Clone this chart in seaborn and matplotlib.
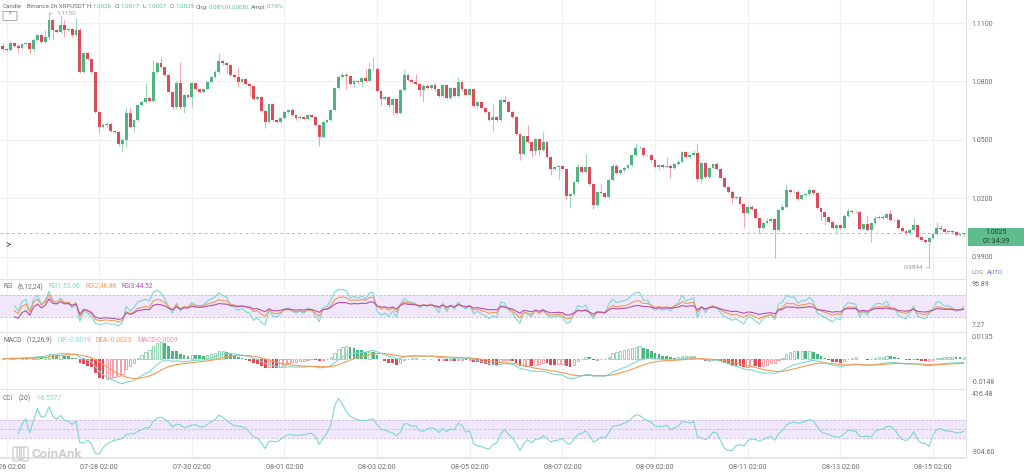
import matplotlib
matplotlib.use("Agg")
import matplotlib.pyplot as plt
import matplotlib.patches as mpatches
import numpy as np
import pandas as pd
import seaborn as sns

# 2h candles (open = previous close)
first_open = 1.0980
closes = [
    1.0965, 1.0962, 1.0999, 1.0982, 1.0970, 1.0991, 1.0999, 1.0965, 1.1013, 1.1038,
    1.1004, 1.1026, 1.1115, 1.1064, 1.1056, 1.1090, 1.1064, 1.1068, 1.1038, 1.1064,
    1.0850, 1.0944, 1.0914, 1.0850, 1.0645, 1.0568, 1.0577, 1.0582, 1.0548, 1.0543,
    1.0479, 1.0500, 1.0637, 1.0568, 1.0603, 1.0679, 1.0697, 1.0714, 1.0702, 1.0850,
    1.0893, 1.0876, 1.0833, 1.0748, 1.0667, 1.0794, 1.0671, 1.0731, 1.0719, 1.0791,
    1.0760, 1.0748, 1.0760, 1.0799, 1.0825, 1.0850, 1.0907, 1.0893, 1.0885, 1.0833,
    1.0821, 1.0799, 1.0811, 1.0787, 1.0777, 1.0709, 1.0722, 1.0649, 1.0594, 1.0685,
    1.0603, 1.0594, 1.0611, 1.0645, 1.0654, 1.0628, 1.0611, 1.0620, 1.0606, 1.0628,
    1.0620, 1.0577, 1.0517, 1.0594, 1.0603, 1.0654, 1.0765, 1.0825, 1.0834, 1.0827,
    1.0788, 1.0805, 1.0797, 1.0817, 1.0805, 1.0862, 1.0865, 1.0750, 1.0708, 1.0720,
    1.0677, 1.0711, 1.0639, 1.0754, 1.0834, 1.0808, 1.0797, 1.0788, 1.0754, 1.0779,
    1.0766, 1.0783, 1.0759, 1.0725, 1.0783, 1.0715, 1.0766, 1.0728, 1.0797, 1.0759,
    1.0732, 1.0759, 1.0674, 1.0694, 1.0663, 1.0643, 1.0603, 1.0617, 1.0600, 1.0703,
    1.0697, 1.0646, 1.0617, 1.0532, 1.0429, 1.0520, 1.0489, 1.0446, 1.0506, 1.0451,
    1.0492, 1.0412, 1.0349, 1.0361, 1.0366, 1.0352, 1.0215, 1.0224, 1.0284, 1.0361,
    1.0338, 1.0361, 1.0275, 1.0164, 1.0232, 1.0227, 1.0207, 1.0297, 1.0369, 1.0332,
    1.0344, 1.0356, 1.0373, 1.0421, 1.0458, 1.0461, 1.0421, 1.0424, 1.0395, 1.0361,
    1.0373, 1.0361, 1.0369, 1.0355, 1.0375, 1.0389, 1.0437, 1.0415, 1.0423, 1.0432,
    1.0300, 1.0380, 1.0312, 1.0355, 1.0375, 1.0351, 1.0307, 1.0261, 1.0232, 1.0201,
    1.0209, 1.0170, 1.0124, 1.0158, 1.0146, 1.0102, 1.0050, 1.0073, 1.0085, 1.0095,
    1.0038, 1.0141, 1.0158, 1.0244, 1.0232, 1.0235, 1.0197, 1.0218, 1.0221, 1.0244,
    1.0226, 1.0150, 1.0129, 1.0107, 1.0081, 1.0050, 1.0064, 1.0047, 1.0112, 1.0136,
    1.0132, 1.0129, 1.0044, 1.0068, 1.0038, 1.0073, 1.0102, 1.0107, 1.0102, 1.0119,
    1.0090, 1.0088, 1.0050, 1.0033, 1.0021, 1.0038, 1.0064, 1.0004, 0.9987, 0.9979,
    0.9996, 1.0016, 1.0047, 1.0044, 1.0030, 1.0033, 1.0026, 1.0014, 1.0017, 1.0025,
]
# wick lengths above / below the body
wick_up = [
    .0015, .0006, .0005, .0006, .0008, .0004, .0005, .0004, .0005, .0007,
    .0010, .0038, .0035, .0006, .0007, .0050, .0025, .0007, .0006, .0060,
    .0009, .0006, .0009, .0004, .0004, .0005, .0008, .0008, .0006, .0004,
    .0005, .0010, .0034, .0034, .0007, .0006, .0008, .0076, .0006, .0060,
    .0007, .0034, .0004, .0007, .0005, .0008, .0108, .0006, .0006, .0006,
    .0007, .0005, .0006, .0006, .0006, .0009, .0037, .0005, .0006, .0005,
    .0006, .0055, .0006, .0005, .0005, .0004, .0006, .0006, .0005, .0006,
    .0006, .0005, .0006, .0006, .0005, .0008, .0005, .0006, .0005, .0005,
    .0006, .0004, .0005, .0005, .0006, .0006, .0006, .0006, .0014, .0014,
    .0006, .0006, .0005, .0006, .0048, .0037, .0060, .0008, .0006, .0005,
    .0006, .0006, .0005, .0006, .0030, .0006, .0005, .0042, .0005, .0006,
    .0006, .0006, .0007, .0005, .0006, .0005, .0006, .0006, .0025, .0006,
    .0005, .0006, .0005, .0006, .0006, .0005, .0005, .0068, .0006, .0006,
    .0022, .0006, .0005, .0005, .0004, .0006, .0058, .0006, .0006, .0006,
    .0048, .0005, .0005, .0006, .0006, .0006, .0005, .0006, .0006, .0017,
    .0006, .0068, .0005, .0005, .0006, .0043, .0005, .0006, .0006, .0006,
    .0006, .0006, .0006, .0006, .0027, .0006, .0005, .0006, .0006, .0005,
    .0006, .0006, .0046, .0006, .0006, .0006, .0006, .0006, .0006, .0017,
    .0046, .0006, .0006, .0006, .0006, .0014, .0006, .0005, .0005, .0005,
    .0006, .0005, .0005, .0006, .0006, .0005, .0005, .0006, .0013, .0012,
    .0006, .0006, .0012, .0029, .0006, .0006, .0006, .0006, .0006, .0017,
    .0006, .0005, .0005, .0005, .0005, .0005, .0006, .0005, .0006, .0014,
    .0006, .0005, .0005, .0006, .0047, .0006, .0006, .0006, .0006, .0006,
    .0022, .0005, .0005, .0005, .0005, .0006, .0034, .0005, .0005, .0005,
    .0006, .0006, .0031, .0017, .0006, .0006, .0005, .0005, .0006, .0001,
]
wick_dn = [
    .0003, .0006, .0005, .0006, .0026, .0005, .0006, .0017, .0012, .0005,
    .0006, .0008, .0006, .0050, .0007, .0005, .0034, .0006, .0008, .0005,
    .0008, .0006, .0006, .0005, .0005, .0034, .0008, .0010, .0007, .0008,
    .0010, .0039, .0034, .0006, .0025, .0005, .0006, .0008, .0005, .0005,
    .0005, .0006, .0008, .0006, .0007, .0006, .0010, .0034, .0006, .0048,
    .0006, .0006, .0005, .0005, .0006, .0005, .0005, .0006, .0043, .0006,
    .0005, .0026, .0006, .0006, .0046, .0005, .0006, .0005, .0034, .0006,
    .0006, .0006, .0005, .0005, .0006, .0005, .0006, .0005, .0006, .0005,
    .0006, .0006, .0050, .0006, .0005, .0005, .0006, .0005, .0006, .0065,
    .0006, .0017, .0005, .0026, .0006, .0005, .0005, .0006, .0034, .0005,
    .0006, .0051, .0006, .0005, .0005, .0006, .0005, .0006, .0026, .0060,
    .0006, .0005, .0006, .0006, .0005, .0006, .0005, .0006, .0005, .0006,
    .0006, .0005, .0006, .0005, .0006, .0006, .0005, .0059, .0006, .0005,
    .0006, .0005, .0006, .0006, .0034, .0006, .0006, .0034, .0025, .0030,
    .0006, .0006, .0031, .0005, .0060, .0006, .0017, .0065, .0006, .0005,
    .0006, .0006, .0006, .0017, .0005, .0006, .0006, .0005, .0006, .0006,
    .0005, .0006, .0005, .0006, .0005, .0006, .0006, .0005, .0006, .0006,
    .0017, .0006, .0005, .0050, .0006, .0005, .0006, .0006, .0005, .0006,
    .0014, .0022, .0006, .0006, .0005, .0006, .0006, .0006, .0006, .0026,
    .0005, .0006, .0074, .0006, .0006, .0006, .0034, .0006, .0005, .0006,
    .0145, .0006, .0005, .0006, .0006, .0005, .0006, .0006, .0005, .0006,
    .0006, .0006, .0039, .0043, .0006, .0006, .0029, .0006, .0005, .0006,
    .0006, .0006, .0006, .0006, .0006, .0059, .0005, .0006, .0006, .0006,
    .0006, .0006, .0006, .0006, .0006, .0006, .0006, .0006, .0006, .0006,
    .0135, .0006, .0005, .0006, .0006, .0006, .0006, .0006, .0006, .0010,
]
start_time = "2024-07-26 00:00"
date_labels = ["07-26 02:00", "07-28 02:00", "07-30 02:00", "08-01 02:00", "08-03 02:00",
               "08-05 02:00", "08-07 02:00", "08-09 02:00", "08-11 02:00", "08-13 02:00",
               "08-15 02:00"]
price_ticks = [0.99, 1.02, 1.05, 1.08, 1.11]
rsi_scale = ["96.89", "7.27"]
macd_scale = ["0.0135", "-0.0148"]
cci_scale = ["416.48", "-304.60"]

GREEN, RED = "#4db57f", "#dd4a5a"
GREEN_W, RED_W = "#9fd8b8", "#f2a7b0"
GREEN_H, RED_H = "#86cfa6", "#f0909c"
TEAL, ORANGE, PURPLE = "#7ad9cf", "#f29b55", "#b24fa8"
BAND, BAND_LINE = "#f1e7fc", "#c9b9da"
GRID, SPINE, TXT = "#f0f0f3", "#e2e2e6", "#6e6e6e"

sns.set_theme(style="white")
plt.rcParams["font.family"] = ["Roboto", "DejaVu Sans"]

df = pd.DataFrame({"time": pd.date_range(start_time, periods=len(closes), freq="2h"),
                   "close": closes})
df["open"] = df["close"].shift(1).fillna(first_open)
df["high"] = df[["open", "close"]].max(axis=1) + np.array(wick_up)
df["low"] = df[["open", "close"]].min(axis=1) - np.array(wick_dn)
df["i"] = np.arange(len(df))


def rsi(s, n):
    d = s.diff()
    g = d.clip(lower=0).ewm(alpha=1 / n, adjust=False, min_periods=3).mean()
    l = (-d.clip(upper=0)).ewm(alpha=1 / n, adjust=False, min_periods=3).mean()
    return 100 * g / (g + l)


df["rsi1"] = rsi(df["close"], 6)
df["rsi2"] = rsi(df["close"], 12)
df["rsi3"] = rsi(df["close"], 24)
df["dif"] = df["close"].ewm(span=12, adjust=False).mean() - df["close"].ewm(span=26, adjust=False).mean()
df["dea"] = df["dif"].ewm(span=9, adjust=False).mean()
df["hist"] = (df["dif"] - df["dea"]) * 2
tp = (df["high"] + df["low"] + df["close"]) / 3
ma = tp.rolling(20, min_periods=5).mean()
md = tp.rolling(20, min_periods=5).apply(lambda v: np.abs(v - v.mean()).mean(), raw=True)
df["cci"] = (tp - ma) / (0.015 * md)

W, H = 1024, 475
fig = plt.figure(figsize=(W / 100, H / 100), dpi=100)


def add_panel(top, bottom, share=None):
    return fig.add_axes([0, 1 - bottom / H, 966 / W, (bottom - top) / H], sharex=share)


ax_p = add_panel(0, 278)
ax_r = add_panel(279, 331, ax_p)
ax_m = add_panel(332, 388, ax_p)
ax_c = add_panel(389, 458, ax_p)

tick_idx = [int(df.index[df["time"].dt.strftime("%m-%d %H:%M") == lab][0]) for lab in date_labels]

for ax in (ax_p, ax_r, ax_m, ax_c):
    for side in ("left", "bottom", "top"):
        ax.spines[side].set_visible(False)
    ax.spines["right"].set_color(SPINE)
    ax.spines["right"].set_linewidth(0.8)
    ax.set_xticks(tick_idx)
    ax.grid(axis="x", color=GRID, lw=0.9)
    ax.grid(axis="y", visible=False)
    ax.tick_params(axis="x", length=0, labelbottom=False)
    ax.set_facecolor("white")
for ax in (ax_r, ax_m, ax_c):
    ax.spines["top"].set_visible(True)
    ax.spines["top"].set_color(SPINE)
    ax.spines["top"].set_linewidth(0.8)
    ax.set_yticks([])
ax_c.spines["bottom"].set_visible(True)
ax_c.spines["bottom"].set_color(SPINE)
ax_c.tick_params(axis="x", labelbottom=True, labelsize=5.2, labelcolor=TXT, pad=4)
ax_c.set_xticklabels(date_labels)
ax_p.set_xlim(-0.7, 249.56)

# price panel
up = df["close"] >= df["open"]
body = (df["close"] - df["open"]).abs().clip(lower=0.00015)
base = df[["open", "close"]].min(axis=1)
for mask, col, wcol in [(up, GREEN, GREEN_W), (~up, RED, RED_W)]:
    d = df[mask]
    ax_p.vlines(d["i"], d["low"], d["high"], color=wcol, lw=0.8, zorder=2)
    ax_p.bar(d["i"], body[mask], bottom=base[mask], width=0.74, color=col, lw=0, zorder=3)
ax_p.set_ylim(0.9792, 1.1218)
ax_p.set_yticks(price_ticks)
ax_p.set_yticklabels([f"{t:.4f}" for t in price_ticks])
ax_p.yaxis.tick_right()
ax_p.tick_params(axis="y", length=0, labelsize=5, labelcolor=TXT, pad=4)
ax_p.grid(axis="y", color=GRID, lw=0.9)
last = df["close"].iloc[-1]
ax_p.axhline(last, color="#8dd3ad", lw=0.7, ls=(0, (3, 3)), zorder=1)

ihi, ilo = df["high"].idxmax(), df["low"].idxmin()
ax_p.annotate(f"{df['high'][ihi]:.4f}", xy=(ihi, df["high"][ihi]), xytext=(5, 0),
              textcoords="offset points", ha="left", va="center", fontsize=4.6, color="#9a9a9a",
              arrowprops=dict(arrowstyle="-", color="#b0b0b0", lw=0.5, shrinkA=0, shrinkB=0))
ax_p.annotate(f"{df['low'][ilo]:.4f}", xy=(ilo, df["low"][ilo]), xytext=(-4, 0),
              textcoords="offset points", ha="right", va="center", fontsize=4.6, color="#9a9a9a",
              arrowprops=dict(arrowstyle="-", color="#b0b0b0", lw=0.5, shrinkA=0, shrinkB=0))

# last price boxes on the right scale
y_disp = ax_p.transData.transform((0, last))[1]
yb = y_disp / H
for k, txt in enumerate([f"{last:.4f}", "01:34:39"]):
    y0 = yb - (4.5 + 9 * k) / H
    fig.patches.append(mpatches.Rectangle((968 / W, y0), 56 / W, 8.6 / H, transform=fig.transFigure,
                                          facecolor="#5fbd8d", edgecolor="none"))
    fig.text(996 / W, y0 + 4.3 / H, txt, ha="center", va="center", fontsize=5, color="#1f3d2c")

# RSI panel
ax_r.axhspan(30, 70, color=BAND, lw=0, zorder=0)
for lv in (30, 70):
    ax_r.axhline(lv, color=BAND_LINE, lw=0.6, ls=(0, (3, 2)), zorder=1)
sns.lineplot(data=df, x="i", y="rsi1", ax=ax_r, color=TEAL, lw=0.8)
sns.lineplot(data=df, x="i", y="rsi2", ax=ax_r, color=ORANGE, lw=0.8)
sns.lineplot(data=df, x="i", y="rsi3", ax=ax_r, color=PURPLE, lw=0.8)
ax_r.set_ylim(7.27 - 4, 96.89 + 4)

# MACD panel
falling = df["hist"].diff() < 0
pos = df["hist"] >= 0
for mask, col, hcol in [(pos, GREEN, GREEN_H), (~pos, RED, RED_H)]:
    f = mask & falling
    h = mask & ~falling
    ax_m.bar(df["i"][f], df["hist"][f], width=0.7, color=col, lw=0, zorder=2)
    ax_m.bar(df["i"][h], df["hist"][h], width=0.62, facecolor="white", edgecolor=hcol, lw=0.6, zorder=2)
sns.lineplot(data=df, x="i", y="dif", ax=ax_m, color=TEAL, lw=0.8, zorder=3)
sns.lineplot(data=df, x="i", y="dea", ax=ax_m, color=ORANGE, lw=0.8, zorder=3)
ax_m.set_ylim(-0.0148 - 0.0008, 0.0135 + 0.0008)

# CCI panel
ax_c.axhspan(-100, 100, color=BAND, lw=0, zorder=0)
for lv in (-100, 0, 100):
    ax_c.axhline(lv, color=BAND_LINE, lw=0.6, ls=(0, (3, 2)), zorder=1)
sns.lineplot(data=df, x="i", y="cci", ax=ax_c, color=TEAL, lw=0.8)
ax_c.set_ylim(-304.60 - 20, 416.48 + 20)

for ax, scale in [(ax_r, rsi_scale), (ax_m, macd_scale), (ax_c, cci_scale)]:
    ax.set_xlabel("")
    ax.set_ylabel("")
    ax.text(1.006, 0.97, scale[0], transform=ax.transAxes, ha="left", va="top", fontsize=5, color=TXT)
    ax.text(1.006, 0.03, scale[1], transform=ax.transAxes, ha="left", va="bottom", fontsize=5, color=TXT)
ax_p.set_xlabel("")

renderer = fig.canvas.get_renderer()


def write_row(x_px, y_px, pieces, size=4.8):
    x = x_px
    for s, col, gap in pieces:
        t = fig.text(x / W, 1 - y_px / H, s, color=col, fontsize=size, ha="left", va="center")
        x = t.get_window_extent(renderer=renderer).x1 + gap


G = "#5cc08e"
write_row(3, 7, [("Candle", TXT, 5), ("Binance 2h XRPUSDT", TXT, 1.5), ("H:", TXT, 0), ("1.0026", G, 3),
                 ("O:", TXT, 0), ("1.0017", G, 3), ("L:", TXT, 0), ("1.0007", G, 3),
                 ("C:", TXT, 0), ("1.0025", G, 2), ("Chg:", TXT, 0), ("0.08%(0.0008)", G, 2),
                 ("Ampl:", TXT, 0), ("0.19%", G, 0)], size=4.4)
write_row(3, 287, [("RSI", TXT, 5), ("(6,12,24)", TXT, 5), ("RSI1:53.06", TEAL, 5),
                   ("RSI2:46.86", ORANGE, 5), ("RSI3:44.52", PURPLE, 0)])
write_row(3, 340, [("MACD", TXT, 5), ("(12,26,9)", TXT, 5), ("DIF:-0.0019", TEAL, 5),
                   ("DEA:-0.0023", ORANGE, 5), ("MACD:0.0009", RED_H, 0)])
write_row(3, 398, [("CCI", TXT, 5), ("(20)", TXT, 5), ("-16.5577", TEAL, 0)])
write_row(972, 272, [("LOG", "#8a8a8a", 3), ("AUTO", "#5b7be0", 0)], size=4.6)

# small ui bits: collapse button, scroll arrow, watermark
fig.patches.append(mpatches.FancyBboxPatch((4 / W, 1 - 20 / H), 12 / W, 8 / H, transform=fig.transFigure,
                                           boxstyle="round,pad=0.001", facecolor="white",
                                           edgecolor="#9a9a9a", lw=0.6))
fig.text(10 / W, 1 - 16 / H, "^", ha="center", va="center", fontsize=5, color="#777777")
fig.text(8 / W, 1 - 244 / H, ">", ha="center", va="center", fontsize=7, color="#444444")
for k in range(3):
    fig.patches.append(mpatches.FancyBboxPatch(((15 + 4.2 * k) / W, 1 - (460 - 2 * (k % 2)) / H),
                                               2.6 / W, (12 - 2 * (k % 2)) / H, transform=fig.transFigure,
                                               boxstyle="round,pad=0.002", facecolor="none",
                                               edgecolor="#cfcfcf", lw=1.0))
fig.text(31 / W, 1 - 454 / H, "CoinAnk", ha="left", va="center", fontsize=9.5, color="#cdcdcd",
         fontweight="bold")

fig.savefig("out.png", dpi=100, facecolor="white")
